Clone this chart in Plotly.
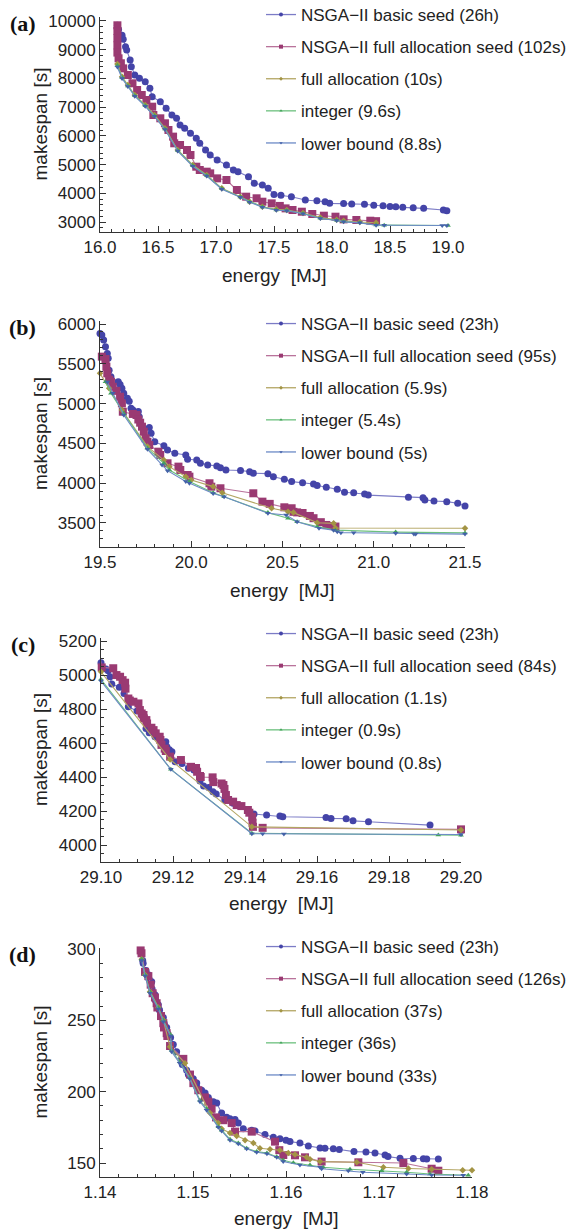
import plotly.graph_objects as go

W, H = 577, 1231

SERIES = ["NSGA\u2212II basic seed", "NSGA\u2212II full allocation seed",
          "full allocation", "integer", "lower bound"]
A_TIMES = ["26h", "102s", "10s", "9.6s", "8.8s"]
B_TIMES = ["23h", "95s", "5.9s", "5.4s", "5s"]
C_TIMES = ["23h", "84s", "1.1s", "0.9s", "0.8s"]
D_TIMES = ["23h", "126s", "37s", "36s", "33s"]
PANEL_LABELS = ["(a)", "(b)", "(c)", "(d)"]
X_TITLE = "energy\u00a0 [MJ]"
Y_TITLE = "makespan [s]"

# ---------------- panel (a) ----------------
A_BASIC_E = [16.15, 16.16, 16.19, 16.20, 16.22, 16.23, 16.26, 16.27, 16.30, 16.34, 16.39, 16.43, 16.45,
             16.52, 16.57, 16.62, 16.66, 16.69, 16.73, 16.78, 16.83, 16.86, 16.91, 16.95, 17.01, 17.09,
             17.15, 17.19, 17.28, 17.33, 17.40, 17.45, 17.50, 17.56, 17.65, 17.77, 17.87, 17.94, 17.98,
             18.10, 18.17, 18.28, 18.36, 18.44, 18.50, 18.55, 18.61, 18.70, 18.79, 18.96, 18.99]
A_BASIC_M = [9850, 9700, 9500, 9363, 9106, 8991, 8643, 8409, 8120, 8005, 7887, 7656, 7364,
             7190, 6960, 6727, 6612, 6378, 6264, 6089, 5915, 5741, 5508, 5334, 5160, 4985,
             4811, 4753, 4578, 4348, 4289, 4173, 3960, 3930, 3882, 3766, 3742, 3707, 3649,
             3645, 3627, 3620, 3582, 3568, 3540, 3533, 3510, 3498, 3475, 3418, 3394]
A_FAS_E = [16.15, 16.15, 16.15, 16.15, 16.15, 16.16, 16.18, 16.20, 16.24, 16.28, 16.32, 16.36, 16.40,
           16.45, 16.46, 16.52, 16.56, 16.59, 16.63, 16.64, 16.69, 16.75, 16.78, 16.83, 16.86, 16.92,
           16.95, 17.01, 17.09, 17.18, 17.26, 17.35, 17.40, 17.48, 17.55, 17.60, 17.66, 17.74, 17.83,
           17.93, 18.03, 18.10, 18.21, 18.33, 18.38]
A_FAS_M = [9850, 9650, 9400, 9150, 8900, 8700, 8528, 8350, 8120, 7830, 7598, 7423, 7248,
           7016, 6727, 6611, 6438, 6205, 5973, 5741, 5682, 5508, 5334, 4926, 4811, 4753,
           4694, 4520, 4463, 4115, 3882, 3826, 3707, 3649, 3560, 3475, 3418, 3359, 3279,
           3220, 3185, 3093, 3070, 3045, 3030]
A_FA_E = [16.15, 16.19, 16.24, 16.30, 16.39, 16.47, 16.56, 16.67, 16.80, 16.92, 17.05, 17.21, 17.29,
          17.40, 17.52, 17.61, 17.75, 17.90, 18.04, 18.10, 18.24, 18.38]
A_FA_M = [8500, 8061, 7772, 7423, 7075, 6727, 6264, 5508, 4985, 4637, 4173, 3882, 3707,
          3533, 3440, 3418, 3310, 3160, 3080, 3040, 3000, 2975]
A_INT_E = [16.15, 16.19, 16.24, 16.30, 16.39, 16.47, 16.56, 16.67, 16.80, 16.92, 17.05, 17.21, 17.29,
           17.40, 17.52, 17.61, 17.75, 17.90, 18.04, 18.10, 18.24, 18.38, 18.45, 19.00]
A_INT_M = [8450, 8030, 7740, 7400, 7050, 6700, 6240, 5490, 4960, 4620, 4160, 3870, 3700,
           3525, 3420, 3405, 3295, 3127, 3060, 3012, 2976, 2895, 2890, 2880]
A_LB_E = [16.15, 16.19, 16.24, 16.30, 16.39, 16.47, 16.56, 16.67, 16.80, 16.92, 17.05, 17.21, 17.29,
          17.40, 17.52, 17.61, 17.75, 17.90, 18.04, 18.10, 18.24, 18.38, 18.45, 18.95, 18.99]
A_LB_M = [8400, 8000, 7720, 7380, 7030, 6680, 6220, 5470, 4940, 4600, 4140, 3860, 3690,
          3515, 3410, 3395, 3290, 3120, 3050, 3005, 2970, 2890, 2885, 2880, 2878]

# ---------------- panel (b) ----------------
B_BASIC_E = [19.50, 19.51, 19.52, 19.53, 19.54, 19.545, 19.55, 19.56, 19.60, 19.61, 19.62, 19.63,
             19.65, 19.66, 19.67, 19.68, 19.71, 19.715, 19.73, 19.77, 19.78, 19.80, 19.85, 19.87,
             19.91, 19.97, 19.98, 20.03, 20.05, 20.09, 20.14, 20.16, 20.19, 20.27, 20.32, 20.34,
             20.42, 20.45, 20.51, 20.55, 20.61, 20.67, 20.69, 20.74, 20.80, 20.84, 20.89, 20.95,
             20.97, 21.19, 21.27, 21.28, 21.33, 21.40, 21.46, 21.50]
B_BASIC_M = [5880, 5862, 5800, 5714, 5630, 5570, 5420, 5338, 5275, 5240, 5192, 5130,
             5066, 5030, 4941, 4920, 4900, 4836, 4710, 4700, 4626, 4521, 4471, 4417,
             4375, 4354, 4300, 4291, 4250, 4230, 4216, 4195, 4166, 4160, 4145, 4125,
             4120, 4080, 4050, 4020, 4006, 3990, 3970, 3948, 3923, 3885, 3880, 3865,
             3850, 3822, 3818, 3790, 3776, 3768, 3748, 3713]
B_FAS_E = [19.51, 19.53, 19.535, 19.54, 19.55, 19.56, 19.57, 19.59, 19.61, 19.62, 19.625, 19.68,
           19.70, 19.71, 19.72, 19.73, 19.74, 19.75, 19.76, 19.77, 19.82, 19.83, 19.87, 19.93,
           19.94, 19.98, 19.99, 20.10, 20.11, 20.16, 20.34, 20.39, 20.43, 20.51, 20.55, 20.56,
           20.58, 20.61, 20.65, 20.67, 20.71, 20.74, 20.77, 20.79]
B_FAS_M = [5590, 5560, 5464, 5380, 5300, 5275, 5212, 5160, 5086, 5003, 4898, 4870,
           4857, 4800, 4760, 4710, 4647, 4564, 4521, 4480, 4396, 4354, 4250, 4208,
           4166, 4103, 4082, 3999, 3956, 3936, 3873, 3768, 3740, 3697, 3685, 3640,
           3633, 3625, 3588, 3560, 3510, 3475, 3462, 3455]
B_FA_E = [19.50, 19.55, 19.62, 19.76, 19.85, 19.88, 19.97, 20.00, 20.12, 20.17, 20.44, 20.53,
          20.56, 20.69, 20.78, 20.79, 21.50]
B_FA_M = [5380, 5192, 4920, 4460, 4290, 4208, 4082, 4040, 3957, 3880, 3685, 3640,
          3630, 3503, 3495, 3436, 3433]
B_INT_E = [19.53, 19.56, 19.63, 19.76, 19.85, 19.88, 19.99, 20.12, 20.18, 20.42, 20.53, 20.58,
           20.69, 20.79, 21.12, 21.50]
B_INT_M = [5275, 5130, 4878, 4440, 4250, 4166, 4020, 3880, 3830, 3630, 3560, 3516,
           3454, 3410, 3385, 3375]
B_LB_E = [19.54, 19.57, 19.63, 19.76, 19.84, 19.87, 19.97, 19.99, 20.12, 20.18, 20.42, 20.52,
          20.58, 20.70, 20.78, 20.80, 20.82, 20.89, 21.12, 21.22, 21.23, 21.50]
B_LB_M = [5270, 5130, 4857, 4425, 4229, 4157, 4020, 4000, 3870, 3830, 3622, 3600,
          3516, 3433, 3410, 3390, 3378, 3377, 3370, 3362, 3361, 3360]

# ---------------- panel (c) ----------------
C_BASIC_E = [29.1000, 29.1005, 29.1014, 29.1020, 29.1025, 29.1030, 29.1051, 29.1064, 29.1076, 29.1100,
             29.1113, 29.1125, 29.1134, 29.1150, 29.1164, 29.1180, 29.1183, 29.1190, 29.1197, 29.1206,
             29.1225, 29.1243, 29.1258, 29.1275, 29.1285, 29.1299, 29.1311, 29.1320, 29.1344, 29.1367,
             29.1384, 29.1425, 29.1460, 29.1497, 29.1505, 29.1625, 29.1639, 29.1681, 29.1700, 29.1743,
             29.1914]
C_BASIC_M = [5072, 5038, 5036, 5025, 4990, 4947, 4928, 4892, 4813, 4788,
             4765, 4686, 4660, 4637, 4618, 4608, 4578, 4560, 4549, 4490,
             4480, 4451, 4441, 4376, 4347, 4339, 4313, 4300, 4265, 4245,
             4229, 4182, 4176, 4170, 4166, 4162, 4156, 4155, 4142, 4137,
             4117]
C_FAS_E = [29.0990, 29.1002, 29.1034, 29.1043, 29.1053, 29.1060, 29.1067, 29.1068, 29.1076, 29.1080,
           29.1090, 29.1104, 29.1108, 29.1113, 29.1118, 29.1119, 29.1126, 29.1128, 29.1140, 29.1146,
           29.1152, 29.1163, 29.1165, 29.1168, 29.1177, 29.1180, 29.1192, 29.1222, 29.1250, 29.1264,
           29.1267, 29.1275, 29.1277, 29.1310, 29.1312, 29.1335, 29.1340, 29.1343, 29.1347, 29.1353,
           29.1367, 29.1377, 29.1390, 29.1408, 29.1412, 29.1420, 29.1421, 29.1422, 29.1449, 29.2000]
C_FAS_M = [5195, 5045, 5040, 5000, 4990, 4970, 4955, 4920, 4862, 4850,
           4843, 4833, 4794, 4774, 4765, 4745, 4735, 4715, 4690, 4676,
           4657, 4637, 4618, 4589, 4567, 4553, 4520, 4500, 4460, 4453,
           4431, 4406, 4400, 4398, 4370, 4362, 4353, 4330, 4294, 4265,
           4255, 4235, 4229, 4206, 4190, 4166, 4131, 4107, 4101, 4092]
C_FA_E = [29.1000, 29.1192, 29.1419, 29.2000]
C_FA_M = [5019, 4503, 4107, 4088]
C_INT_E = [29.1000, 29.1194, 29.1419, 29.1937, 29.2000]
C_INT_M = [4975, 4445, 4069, 4059, 4058]
C_LB_E = [29.1000, 29.1194, 29.1419, 29.1449, 29.1508, 29.2000]
C_LB_M = [4965, 4445, 4066, 4066, 4065, 4062]

# ---------------- panel (d) ----------------
D_BASIC_E = [1.14437, 1.14459, 1.14464, 1.14495, 1.1452, 1.14527, 1.14556, 1.1456, 1.14565, 1.14591,
             1.14595, 1.14627, 1.14634, 1.1464, 1.14681, 1.1469, 1.14717, 1.14724, 1.14759, 1.14788,
             1.14824, 1.14878, 1.14885, 1.14932, 1.14950, 1.15003, 1.1504, 1.15043, 1.15093, 1.1513,
             1.15165, 1.15219, 1.15255, 1.15308, 1.15362, 1.15398, 1.15452, 1.15487, 1.15541, 1.15631,
             1.15667, 1.15774, 1.15864, 1.15935, 1.16, 1.16043, 1.1615, 1.1624, 1.16366, 1.16419,
             1.16509, 1.16573, 1.16731, 1.1686, 1.16957, 1.17065, 1.17097, 1.17226, 1.17369, 1.17477,
             1.17513, 1.17638]
D_BASIC_M = [299, 292, 290, 285, 282, 279, 277, 272, 269, 268,
             264, 261, 258, 257, 252, 248, 245, 241, 238, 233,
             228, 223, 219, 215, 212, 209, 206, 203, 201, 199,
             196, 193, 192, 185, 182, 181, 180.5, 178, 174, 173,
             172.5, 170, 168, 167, 166, 165, 164, 162, 160.5, 160.3,
             160, 159.5, 158, 157.8, 157, 155.6, 154.5, 153.3, 153.2, 153,
             152.9, 152.8]
D_FAS_E = [1.14437, 1.14446, 1.14484, 1.1452, 1.14545, 1.14566, 1.14591, 1.14609, 1.14617, 1.14656,
           1.14681, 1.14688, 1.14717, 1.14724, 1.14753, 1.14896, 1.14968, 1.15004, 1.15057, 1.15129,
           1.15165, 1.152, 1.15247, 1.15326, 1.15416, 1.15452, 1.15631, 1.15882, 1.15928, 1.15971,
           1.16097, 1.16204, 1.16383, 1.16778, 1.17262, 1.17566, 1.17638]
D_FAS_M = [299, 297, 284, 281, 275, 269, 266, 262, 259, 253,
           248, 245, 241, 239, 232, 223, 212, 206, 201, 196,
           193, 188, 182, 180, 178, 172, 172, 165, 159, 155.6,
           155.4, 154, 151, 150.5, 150, 146, 144.6]
D_FA_E = [1.14448, 1.14484, 1.14538, 1.14627, 1.14681, 1.14753, 1.14914, 1.15183, 1.1527, 1.15308,
          1.15398, 1.1547, 1.1556, 1.15649, 1.1572, 1.15828, 1.15935, 1.16025, 1.16097, 1.16222,
          1.16258, 1.16366, 1.16761, 1.17047, 1.17315, 1.17566, 1.179, 1.18]
D_FA_M = [292.8, 282, 270, 259, 250, 231.5, 220, 185, 178, 174,
          171, 169, 166, 164, 160.3, 159.6, 159, 157, 156, 154,
          152.6, 151, 150.5, 147, 146.2, 145.7, 145, 144.9]
D_INT_E = [1.14448, 1.14484, 1.14538, 1.14627, 1.14681, 1.14758, 1.1477, 1.14857, 1.14964, 1.15075,
           1.15147, 1.15272, 1.15308, 1.15398, 1.15487, 1.15577, 1.15685, 1.15795, 1.159, 1.15971,
           1.16079, 1.16258, 1.164, 1.16688, 1.17029, 1.17297, 1.17548, 1.1796]
D_INT_M = [292.8, 282, 270, 259, 250, 240, 229, 221, 210, 194,
           188, 175.5, 173, 166.7, 164, 160.3, 158, 157, 154.4, 152,
           150.2, 148.6, 147, 145.6, 144.6, 143.5, 142.3, 141.4]
D_LB_E = [1.14448, 1.14484, 1.14538, 1.14627, 1.14681, 1.14758, 1.1477, 1.14857, 1.14964, 1.15075,
          1.15147, 1.15272, 1.15308, 1.15398, 1.15487, 1.15577, 1.15685, 1.15795, 1.159, 1.1597,
          1.1615, 1.16366, 1.16383, 1.1667, 1.16826, 1.17297, 1.17566, 1.17906]
D_LB_M = [292, 281, 269, 258, 249, 239, 228, 220, 209, 193,
          187, 175, 172.5, 166, 163.5, 160, 157.5, 156.5, 154, 151,
          148.6, 147, 146, 144.6, 143.5, 142.3, 141.6, 141.4]

PANEL_DATA = [
    [(A_BASIC_E, A_BASIC_M), (A_FAS_E, A_FAS_M), (A_FA_E, A_FA_M), (A_INT_E, A_INT_M), (A_LB_E, A_LB_M)],
    [(B_BASIC_E, B_BASIC_M), (B_FAS_E, B_FAS_M), (B_FA_E, B_FA_M), (B_INT_E, B_INT_M), (B_LB_E, B_LB_M)],
    [(C_BASIC_E, C_BASIC_M), (C_FAS_E, C_FAS_M), (C_FA_E, C_FA_M), (C_INT_E, C_INT_M), (C_LB_E, C_LB_M)],
    [(D_BASIC_E, D_BASIC_M), (D_FAS_E, D_FAS_M), (D_FA_E, D_FA_M), (D_INT_E, D_INT_M), (D_LB_E, D_LB_M)],
]
PANEL_TIMES = [A_TIMES, B_TIMES, C_TIMES, D_TIMES]

for pd_ in PANEL_DATA:
    for e, m in pd_:
        assert len(e) == len(m), (len(e), len(m))

# ---------------- styling ----------------
MARKER_COLORS = ["#4444A8", "#9A3A72", "#A39444", "#44A35C", "#4462A8"]
LINE_COLORS = ["#7C7CC6", "#B9739B", "#B3A562", "#6CC07E", "#6C8AC6"]
SYMBOLS = ["circle", "square", "diamond", "triangle-up", "triangle-down"]
MSIZES = [7, 8, 5, 5, 5]
LEG_MSIZES = [4, 4, 3, 3, 3]

LAYOUT = [
    dict(px=(100, 448), py=(17, 232), xr=[16.0, 19.0], yr=[2652, 10139], xd=0.5, x0=16.0, xm=0.1,
         xf=".1f", yd=1000, y0=3000, ym=200, leg_top=-3, title_y=275),
    dict(px=(100, 465), py=(321, 547), xr=[19.5, 21.5], yr=[3198, 6038], xd=0.5, x0=19.5, xm=0.1,
         xf=".1f", yd=500, y0=3500, ym=100, leg_top=306, title_y=590),
    dict(px=(101, 461), py=(638, 862), xr=[29.10, 29.20], yr=[3900, 5218], xd=0.02, x0=29.10, xm=0.005,
         xf=".2f", yd=200, y0=4000, ym=50, leg_top=616, title_y=903),
    dict(px=(100, 472), py=(948, 1177), xr=[1.14, 1.18], yr=[140.2, 300.7], xd=0.01, x0=1.14, xm=0.002,
         xf=".2f", yd=50, y0=150, ym=10, leg_top=929, title_y=1218),
]

FONT = "Liberation Sans, Arial, Helvetica, sans-serif"
AXC = "#333333"

fig = go.Figure()
layout_updates = {}
annotations = []

for p, (spec, data, times) in enumerate(zip(LAYOUT, PANEL_DATA, PANEL_TIMES)):
    sfx = "" if p == 0 else str(p + 1)
    xa, ya = "x" + sfx, "y" + sfx
    leg = "legend" + sfx
    for s, (e, m) in enumerate(data):
        fig.add_trace(go.Scatter(
            x=e, y=m, mode="lines+markers", xaxis=xa, yaxis=ya,
            line=dict(color=LINE_COLORS[s], width=1.1),
            marker=dict(symbol=SYMBOLS[s], size=MSIZES[s], color=MARKER_COLORS[s],
                        line=dict(width=0)),
            cliponaxis=False, showlegend=False, hoverinfo="skip"))
    for s in range(5):
        fig.add_trace(go.Scatter(
            x=[None], y=[None], mode="lines+markers", xaxis=xa, yaxis=ya,
            name=f"{SERIES[s]} ({times[s]})", legend=leg, legendgroup=f"{p}_{s}",
            line=dict(color=LINE_COLORS[s], width=1.3),
            marker=dict(symbol=SYMBOLS[s], size=LEG_MSIZES[s], color=MARKER_COLORS[s])))

    x0p, x1p = spec["px"]
    ytp, ybp = spec["py"]
    common = dict(showline=True, linecolor=AXC, linewidth=1, showgrid=False, zeroline=False,
                  ticks="inside", ticklen=6, tickwidth=1, tickcolor=AXC, automargin=False,
                  tickfont=dict(family=FONT, size=17, color="#222222"))
    layout_updates["xaxis" + sfx] = dict(
        common, domain=[x0p / W, x1p / W], range=spec["xr"], anchor=ya,
        tickmode="linear", tick0=spec["x0"], dtick=spec["xd"], tickformat=spec["xf"],
        minor=dict(ticks="inside", ticklen=3, tickcolor=AXC, dtick=spec["xm"], tick0=spec["x0"]))
    layout_updates["yaxis" + sfx] = dict(
        common, domain=[1 - ybp / H, 1 - ytp / H], range=spec["yr"], anchor=xa,
        tickmode="linear", tick0=spec["y0"], dtick=spec["yd"], tickformat="d",
        minor=dict(ticks="inside", ticklen=3, tickcolor=AXC, dtick=spec["ym"], tick0=spec["y0"]))
    layout_updates[leg] = dict(
        x=261 / W, y=1 - spec["leg_top"] / H, xanchor="left", yanchor="top",
        bgcolor="rgba(0,0,0,0)", borderwidth=0, tracegroupgap=7, itemwidth=30,
        font=dict(family=FONT, size=17, color="#222222"))

    cy = (ytp + ybp) / 2
    annotations.append(dict(text=Y_TITLE, x=40 / W, y=1 - cy / H, xref="paper", yref="paper",
                            textangle=-90, showarrow=False, xanchor="center", yanchor="middle",
                            font=dict(family=FONT, size=19, color="#222222")))
    annotations.append(dict(text=X_TITLE, x=((x0p + x1p) / 2) / W, y=1 - spec["title_y"] / H,
                            xref="paper", yref="paper", showarrow=False,
                            xanchor="center", yanchor="middle",
                            font=dict(family=FONT, size=19, color="#222222")))
    annotations.append(dict(text=f"<b>{PANEL_LABELS[p]}</b>", x=23 / W, y=1 - (ytp + 6) / H,
                            xref="paper", yref="paper", showarrow=False,
                            xanchor="center", yanchor="middle",
                            font=dict(family="Liberation Serif, Times New Roman, serif", size=22,
                                      color="#111111")))

fig.update_layout(**layout_updates)
fig.update_layout(width=W, height=H, margin=dict(l=0, r=0, t=0, b=0, autoexpand=False),
                  paper_bgcolor="white", plot_bgcolor="white", annotations=annotations)

fig.write_html("out.html", config={"displayModeBar": False},
               post_script="document.body.style.margin='0px';")
